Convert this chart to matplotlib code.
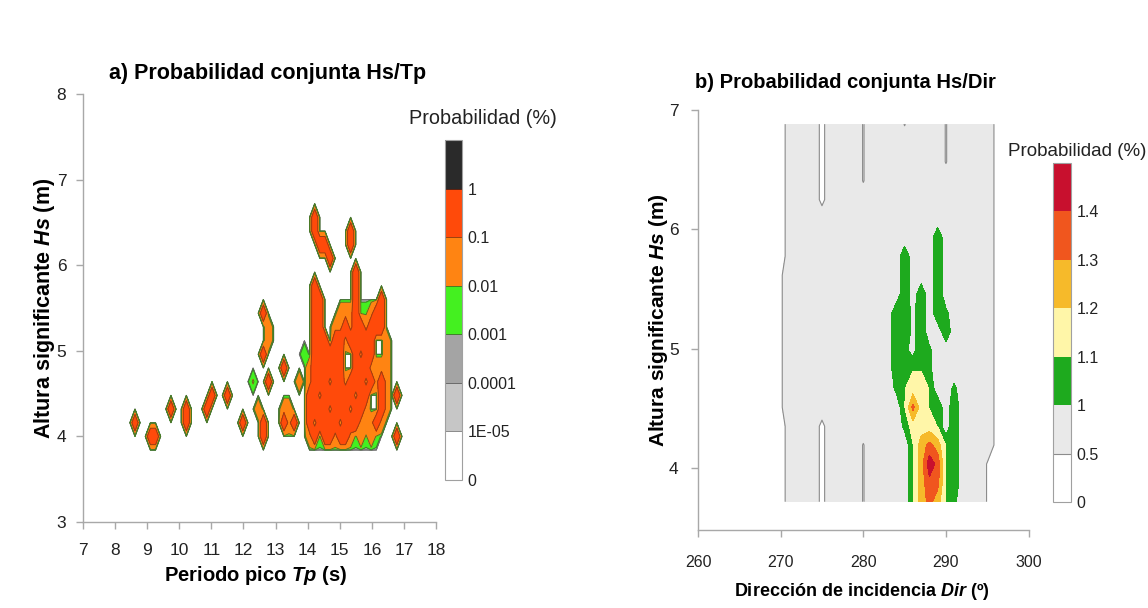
import numpy as np
import matplotlib
matplotlib.use('Agg')
import matplotlib.pyplot as plt

plt.rcParams['font.family'] = ['Liberation Sans', 'DejaVu Sans']
plt.rcParams['mathtext.fontset'] = 'custom'
plt.rcParams['mathtext.it'] = 'Liberation Sans:italic:bold'
plt.rcParams['mathtext.rm'] = 'Liberation Sans:bold'

# ---------------- a) joint probability Hs / Tp ----------------
# bin centres of the Hs/Tp histogram
tp_bins = np.round(8.30 + 0.16 * np.arange(56), 2)
hs_bins_a = np.round(3.68 + 0.16 * np.arange(21), 2)

# probability class of every bin (top row = highest Hs)
prob_code_a = {'.': 0.0, 'g': 0.005, 'h': 0.012, 'o': 0.05, 'r': 0.25}
map_a = [
    "..........|..........|..........|..........|..........|......",
    "..........|..........|..........|..........|..........|......",
    "..........|..........|..........|.......r..|..........|......",
    "..........|..........|..........|.......r..|....r.....|......",
    "..........|..........|..........|........rr|....r.....|......",
    "..........|..........|..........|..........|r.........|......",
    "..........|..........|..........|..........|.....r....|......",
    "..........|..........|..........|.......r..|.....r....|......",
    "..........|..........|..........|.......rr.|.....r....|r.....",
    "..........|..........|.......r..|.......rr.|..ooorggor|r.....",
    "..........|..........|........o.|.......rr.|.oororrorr|r.....",
    "..........|..........|........o.|.......rrr|.rrorrrrr.|.o....",
    "..........|..........|.......r..|.....g.rrr|rrr..rorr.|.o....",
    "..........|..........|..........|.r....orrr|rrr..rrroo|oo....",
    "..........|..........|.....h..r.|....o.orrr|orrorrroro|ro....",
    "..........|.......r..|r.........|......rror|rrrrrorr..|ro.r..",
    ".........r|..r...r...|......o...|.oo...rrrr|orrrorro..|ro....",
    "..r.......|..r.......|...r...r..|.ror..rorr|rrorrrooor|o.....",
    ".....rr...|..........|.......r..|......orgr|rorrogogog|...r..",
    "..........|..........|..........|..........|..........|......",
    "..........|..........|..........|..........|..........|......",
]
levels_a = [0, 1e-5, 1e-4, 1e-3, 1e-2, 0.1, 1, 10]
labels_a = ['0', '1E-05', '0.0001', '0.001', '0.01', '0.1', '1']
colors_a = ['#ffffff', '#c6c6c6', '#a4a4a4', '#44f020', '#ff8412', '#ff4a0a', '#2a2a2a']
lines_a = ['#8a8a8a', '#6a6a6a', '#3f7f2a', '#4d7a22', '#9a4010', '#5a2010']

# ---------------- b) joint probability Hs / Dir ----------------
dir_bins = np.arange(270, 297)
hs_bins_b = np.round(3.72 + 0.158 * np.arange(21), 3)

prob_code_b = {'.': 0.92, 'w': 0.0, 'v': 0.4, '-': 0.3, '~': 0.46, 'e': 0.96,
               'h': 1.03, 'g': 1.095, 'y': 1.15, 'o': 1.25, 'r': 1.33,
               'R': 1.37, 'd': 1.46}
map_b = [
    "w....-....|~....~....|~.....v",
    "w....-....|~.........|~.....v",
    "w....-....|~.........|~.....v",
    "w....-....|~.........|......v",
    "w....-....|..........|......v",
    "w.........|..........|......v",
    "w.........|.........g|......v",
    "w.........|.....g...g|......v",
    "v.........|.....g...g|......v",
    "v.........|.....g.g.g|......v",
    "v.........|....ggeg.g|h.....v",
    "v.........|....ggeg..|g.....v",
    "v.........|....ghegh.|......v",
    "v.........|....ggggh.|......v",
    "v.........|....hgyyg.|.h....v",
    "v.........|.....grygg|.g....v",
    "w....-....|.....hyyyg|.g....v",
    "w....-....|~.....goro|gg....v",
    "w....-....|~.....godR|gg...~v",
    "w....-....|~.....goRr|gg...~v",
    "w....-....|~.....goro|gh...~v",
]
levels_b = [0, 0.5, 1, 1.1, 1.2, 1.3, 1.4, 1.5]
labels_b = ['0', '0.5', '1', '1.1', '1.2', '1.3', '1.4']
colors_b = ['#ffffff', '#e9e9e9', '#1eaa1e', '#fff6a8', '#f6ba2a', '#f0561e', '#c8102e']


def to_grid(rows, code):
    rows = [r.replace('|', '') for r in rows]
    return np.array([[code[c] for c in r] for r in rows[::-1]])


def style_axes(ax):
    for s in ['top', 'right']:
        ax.spines[s].set_visible(False)
    for s in ['left', 'bottom']:
        ax.spines[s].set_color('#a8a8a8')
        ax.spines[s].set_linewidth(1)
    ax.tick_params(direction='out', length=5, width=1, color='#a8a8a8',
                   labelcolor='#222222')


fig = plt.figure(figsize=(11.48, 6.08), dpi=100)

# ---- panel a ----
ax_a = fig.add_axes([0.0723, 0.1414, 0.3075, 0.7039])
z_a = to_grid(map_a, prob_code_a)
cs_a = ax_a.contourf(tp_bins, hs_bins_a, z_a, levels=levels_a, colors=colors_a)
cl_a = ax_a.contour(tp_bins, hs_bins_a, z_a, levels=levels_a[1:-1],
                    colors=lines_a, linewidths=0.7)
ax_a.set_xlim(7, 18)
ax_a.set_ylim(3, 8)
ax_a.set_xticks(range(7, 19))
ax_a.set_yticks(range(3, 9))
style_axes(ax_a)
ax_a.tick_params(axis='x', labelsize=12.5, pad=10)
ax_a.tick_params(axis='y', labelsize=12.5, pad=7)
ax_a.set_xlabel(r'Periodo pico $\mathit{Tp}$ (s)', fontsize=14.5, fontweight='bold')
ax_a.set_ylabel(r'Altura significante $\mathit{Hs}$ (m)', fontsize=15.5, fontweight='bold')
ax_a.xaxis.set_label_coords(0.49, -0.097)
ax_a.yaxis.set_label_coords(-0.075, 0.5)
fig.text(268 / 1148, 1 - 73 / 608, 'a) Probabilidad conjunta Hs/Tp',
         ha='center', va='center', fontsize=15.5, fontweight='bold')

cax_a = fig.add_axes([445 / 1148, 1 - 480 / 608, 17 / 1148, 340 / 608])
cb_a = fig.colorbar(cs_a, cax=cax_a, spacing='uniform')
cb_a.set_ticks(levels_a[:-1])
cb_a.set_ticklabels(labels_a)
cb_a.add_lines(cl_a)
cb_a.outline.set_edgecolor('#a0a0a0')
cax_a.tick_params(length=0, labelsize=11.5, pad=4, labelcolor='#222222')
fig.text(483 / 1148, 1 - 119 / 608, 'Probabilidad (%)', ha='center', va='center',
         fontsize=14.3, color='#222222')

# ---- panel b ----
ax_b = fig.add_axes([698 / 1148, 77.6 / 608, 330.6 / 1148, 420.6 / 608])
z_b = to_grid(map_b, prob_code_b)
cs_b = ax_b.contourf(dir_bins, hs_bins_b, z_b, levels=levels_b, colors=colors_b)
cl_b = ax_b.contour(dir_bins, hs_bins_b, z_b, levels=[0.5], colors='#8c8c8c',
                    linewidths=0.8)
ax_b.set_xlim(260, 300)
ax_b.set_ylim(3.48, 7)
ax_b.set_xticks(range(260, 301, 10))
ax_b.set_yticks(range(4, 8))
style_axes(ax_b)
ax_b.tick_params(axis='x', labelsize=11.5, pad=13)
ax_b.tick_params(axis='y', labelsize=12.5, pad=9)
ax_b.set_xlabel(r'Dirección de incidencia $\mathit{Dir}$ (º)', fontsize=13, fontweight='bold')
ax_b.set_ylabel(r'Altura significante $\mathit{Hs}$ (m)', fontsize=15, fontweight='bold')
ax_b.xaxis.set_label_coords(0.496, -0.121)
ax_b.yaxis.set_label_coords(-0.085, 0.5)
fig.text(845 / 1148, 1 - 83 / 608, 'b) Probabilidad conjunta Hs/Dir',
         ha='center', va='center', fontsize=14.5, fontweight='bold')

cax_b = fig.add_axes([1053 / 1148, 1 - 502 / 608, 18 / 1148, 339 / 608])
cb_b = fig.colorbar(cs_b, cax=cax_b, spacing='uniform')
cb_b.set_ticks(levels_b[:-1])
cb_b.set_ticklabels(labels_b)
cb_b.add_lines(cl_b)
cb_b.outline.set_edgecolor('#a0a0a0')
cax_b.tick_params(length=0, labelsize=11.5, pad=4, labelcolor='#222222')
fig.text(1077 / 1148, 1 - 151 / 608, 'Probabilidad (%)', ha='center', va='center',
         fontsize=13.5, color='#222222')

fig.savefig('out.png', dpi=100, facecolor='white')
print("OK: out.png")
